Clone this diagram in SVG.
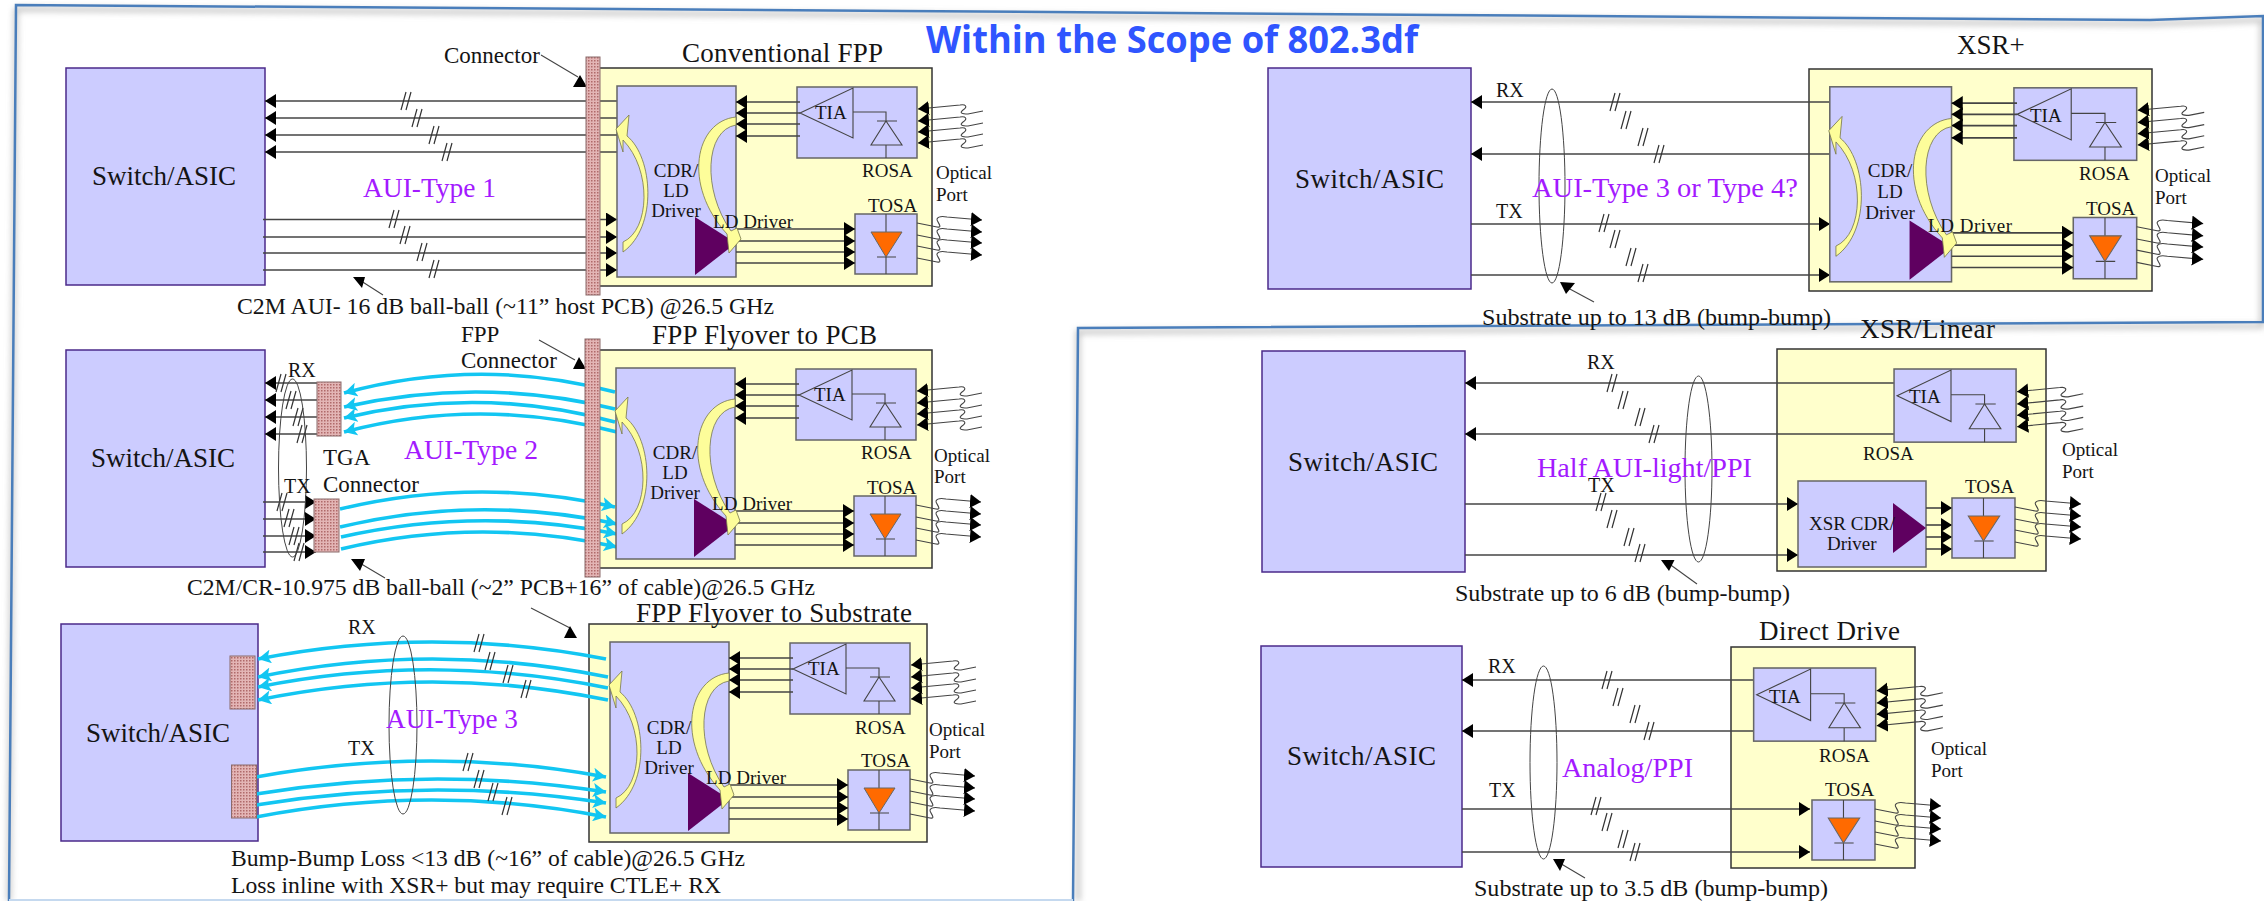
<svg xmlns="http://www.w3.org/2000/svg" width="2264" height="901" viewBox="0 0 2264 901">
<style>
text{font-family:"Liberation Serif","Times New Roman",serif;fill:#141414}
.b{font-size:27px}.m{font-size:19px}.s{font-size:23px}.r{font-size:20px}
text.p{font-size:28px;fill:#a31aff}
.title{font-family:"Open Sans","Noto Sans",sans-serif;font-weight:700;font-size:38px;fill:#2f55ff}
.sw{fill:#ccccff;stroke:#4b2a8a;stroke-width:1.5}
.yb{fill:#ffffcc;stroke:#333;stroke-width:1.5}
.mod{fill:#ccccff;stroke:#666;stroke-width:1.5}
.bar{fill:url(#hatch);stroke:#8a6a6a;stroke-width:1}
.w{fill:none;stroke:#444;stroke-width:1.6}
.tn{fill:none;stroke:#444;stroke-width:1.1}
.sl{fill:none;stroke:#333;stroke-width:1.2}
.el{fill:none;stroke:#444;stroke-width:1}
.cy{fill:none;stroke:#12c6f2;stroke-width:3.6;marker-end:url(#c)}
.ya{fill:#fdfd9a;stroke:#77774a;stroke-width:.8}
.pu{fill:#5f0060}
.or{fill:#ff6a00;stroke:#666;stroke-width:1}
.in{marker-start:url(#h)}.out{marker-end:url(#h)}
.frame{fill:none;stroke:#4a7ebb;stroke-width:2.5}
</style>
<defs>
<marker id="h" markerUnits="userSpaceOnUse" markerWidth="12" markerHeight="14" refX="11" refY="7" orient="auto-start-reverse"><path d="M0,0L11,7L0,14Z" fill="#000"/></marker>
<marker id="c" markerUnits="userSpaceOnUse" markerWidth="14" markerHeight="14" refX="13" refY="7" orient="auto"><path d="M0,0L13,7L0,14L3,7Z" fill="#12c6f2"/></marker>
<pattern id="hatch" width="3" height="3" patternUnits="userSpaceOnUse"><rect width="3" height="3" fill="#e3b5b5"/><rect width="1.5" height="1.5" fill="#b06a6a"/></pattern>
<filter id="blur" x="-5%" y="-5%" width="110%" height="110%"><feGaussianBlur stdDeviation="3"/></filter>
<path id="s" class="sl" d="M-6,9L-1,-9M-1,9L4,-9"/>
<path id="wi" class="tn in" d="M0,0L42,-4C48,-5 50,-2 45,1C41,4 44,5 50,5L65,2"/>
<path id="wo" class="tn out" d="M0,4L20,8C27,9 19,2 20,0C21,-2 25,-3 30,-2L65,1"/>
<g id="rosa">
<rect class="mod" x="797" y="87" width="120" height="71"/>
<path class="tn" d="M800,113L853,88V138ZM853,112H886V121M877,121H897M886,121L871,145H902ZM886,145V158"/>
<use href="#wi" x="918" y="109"/><use href="#wi" x="918" y="121"/><use href="#wi" x="918" y="132"/><use href="#wi" x="918" y="143"/>
</g>
<g id="tosa">
<rect class="mod" x="855" y="214" width="62" height="60"/>
<path class="tn" d="M886,214V274M877,257H896"/>
<path class="or" d="M871,232H902L886,257Z"/>
<use href="#wo" x="917" y="219"/><use href="#wo" x="917" y="231"/><use href="#wo" x="917" y="242"/><use href="#wo" x="917" y="254"/>
</g>
<g id="core">
<rect class="mod" x="617" y="86" width="119" height="191"/>
<use href="#rosa"/><use href="#tosa"/>
<path class="w in" d="M736,102H800"/><path class="w in" d="M736,113H800"/><path class="w in" d="M736,124H800"/><path class="w in" d="M736,136H800"/>
<path class="w out" d="M736,229H855"/><path class="w out" d="M736,241H855"/><path class="w out" d="M736,252H855"/><path class="w out" d="M736,263H855"/>
<path class="pu" d="M695,217V275L736,243Z"/>
<path class="ya" d="M616,129L629,115L627,136C653,157 658,227 623,252L623,242C650,230 652,170 623,140L623,152Z"/>
<path class="ya" d="M736,117C695,121 682,185 727,234L729,253L741,239L737,228L731,231C702,190 705,130 736,125Z"/>
</g>
</defs>

<g id="frame">
<path d="M16,9L900,15L1440,19L2150,24L2262,20V326L1078,332V901M16,9L9,901" fill="none" stroke="#bbb" stroke-width="4" filter="url(#blur)"/>
<path class="frame" d="M9,901L16,5L900,11L1440,15L2150,20L2263,16V322L1078,328L1073,901"/>
<path d="M9,900H1073" stroke="#c5d9ef" stroke-width="2"/>
</g>
<text class="title" x="926" y="53" textLength="492" lengthAdjust="spacingAndGlyphs">Within the Scope of 802.3df</text>

<!-- boxes under the wires -->
<g id="switch-1"><rect class="sw" x="66" y="68" width="199" height="217"/><text class="b" x="92" y="185">Switch/ASIC</text></g>
<g id="switch-2"><rect class="sw" x="66" y="350" width="199" height="217"/><text class="b" x="91" y="467">Switch/ASIC</text></g>
<g id="switch-3"><rect class="sw" x="61" y="624" width="197" height="217"/><text class="b" x="86" y="742">Switch/ASIC</text></g>
<g id="switch-4"><rect class="sw" x="1268" y="68" width="203" height="221"/><text class="b" x="1295" y="188" textLength="149">Switch/ASIC</text></g>
<g id="switch-5"><rect class="sw" x="1262" y="351" width="203" height="221"/><text class="b" x="1288" y="471" textLength="150">Switch/ASIC</text></g>
<g id="switch-6"><rect class="sw" x="1261" y="646" width="201" height="221"/><text class="b" x="1287" y="765" textLength="149">Switch/ASIC</text></g>
<g id="fpp-box-1"><rect class="yb" x="590" y="68" width="342" height="218"/><text class="b" x="682" y="61.500" textLength="201">Conventional FPP</text></g>
<g id="fpp-box-2"><rect class="yb" x="590" y="350" width="342" height="218"/><text class="b" x="652" y="344" textLength="225">FPP Flyover to PCB</text></g>
<g id="fpp-box-3"><rect class="yb" x="589" y="624" width="338" height="218"/><text class="b" x="636" y="622" textLength="276">FPP Flyover to Substrate</text></g>
<g id="xsr-box"><rect class="yb" x="1809" y="69" width="343" height="222"/><text class="b" x="1957" y="54">XSR+</text></g>
<g id="linear-box"><rect class="yb" x="1777" y="349" width="269" height="222"/><text class="b" x="1860" y="338" textLength="135">XSR/Linear</text></g>
<g id="direct-box"><rect class="yb" x="1731" y="647" width="184" height="221"/><text class="b" x="1759" y="640" textLength="141">Direct Drive</text></g>

<g id="connectors">
<!-- panel 1 -->
<path class="w in" d="M265,101H617"/><path class="w in" d="M265,118H617"/><path class="w in" d="M265,135H617"/><path class="w in" d="M265,152H617"/>
<path class="w out" d="M263,219.500H617"/><path class="w out" d="M263,237H617"/><path class="w out" d="M263,253H617"/><path class="w out" d="M263,270H617"/>
<use href="#s" x="407" y="101"/><use href="#s" x="418" y="118"/><use href="#s" x="435" y="135"/><use href="#s" x="448" y="152"/>
<use href="#s" x="395" y="219"/><use href="#s" x="406" y="235"/><use href="#s" x="423" y="252"/><use href="#s" x="435" y="269"/>
<path class="tn" d="M541,55L578,77M383,295L358,279"/>
<path d="M573,87H587L580,75ZM353,277H365L362,288Z"/>
<!-- panel 2 -->
<path class="w in" d="M265,383H317"/><path class="w in" d="M265,400H317"/><path class="w in" d="M265,417H317"/><path class="w in" d="M265,434H317"/>
<path class="w out" d="M263,502H316"/><path class="w out" d="M263,519H316"/><path class="w out" d="M263,536H316"/><path class="w out" d="M263,552H316"/>
<use href="#s" x="282" y="383"/><use href="#s" x="292" y="400"/><use href="#s" x="299" y="417"/><use href="#s" x="303" y="434"/>
<use href="#s" x="283" y="502"/><use href="#s" x="290" y="518"/><use href="#s" x="295" y="536"/><use href="#s" x="300" y="552"/>
<path class="cy" d="M615,392Q480,356 344,393"/><path class="cy" d="M615,409Q480,376 344,407"/><path class="cy" d="M615,422Q480,385 344,418"/><path class="cy" d="M617,432Q480,396 344,432"/>
<path class="cy" d="M340,509Q478,476 615,507"/><path class="cy" d="M340,527Q478,494 617,524"/><path class="cy" d="M341,537Q478,506 617,534"/><path class="cy" d="M341,549Q478,516 617,547"/>
<path class="tn" d="M539,340L575,360M385,578L358,562"/>
<path d="M573,369H586L579,357ZM351,559H365L360,571Z"/>
<!-- panel 3 -->
<path class="cy" d="M606,659Q432,625 258,659"/><path class="cy" d="M608,677Q432,641 258,677"/><path class="cy" d="M608,688Q432,652 258,687"/><path class="cy" d="M608,700Q432,664 258,700"/>
<path class="cy" d="M256,777Q432,745 606,777"/><path class="cy" d="M256,794Q432,765 606,792"/><path class="cy" d="M256,805Q432,776 606,803"/><path class="cy" d="M256,817Q432,783 606,817"/>
<use href="#s" x="480" y="643"/><use href="#s" x="491" y="661"/><use href="#s" x="509" y="674"/><use href="#s" x="527" y="689"/>
<use href="#s" x="469" y="762"/><use href="#s" x="480" y="779"/><use href="#s" x="494" y="792"/><use href="#s" x="508" y="806"/>
<path class="tn" d="M531,608L570,628"/><path d="M564,638H577L570,626Z"/>
<!-- XSR+ -->
<path class="w in" d="M1471,102H1830"/><path class="w in" d="M1471,154H1830"/><path class="w out" d="M1471,224H1830"/><path class="w out" d="M1471,275H1830"/>
<use href="#s" x="1616" y="102"/><use href="#s" x="1627" y="120"/><use href="#s" x="1644" y="137"/><use href="#s" x="1660" y="154"/>
<use href="#s" x="1605" y="223"/><use href="#s" x="1616" y="239"/><use href="#s" x="1632" y="257"/><use href="#s" x="1644" y="273"/>
<path class="tn" d="M1568,288L1594,302"/><path d="M1560,282L1575,283L1566,294Z"/>
<!-- XSR/Linear -->
<path class="w in" d="M1465,383H1894"/><path class="w in" d="M1465,434H1894"/><path class="w out" d="M1465,504H1798"/><path class="w out" d="M1465,555H1798"/>
<use href="#s" x="1613" y="383"/><use href="#s" x="1624" y="400"/><use href="#s" x="1641" y="417"/><use href="#s" x="1655" y="434"/>
<use href="#s" x="1602" y="502"/><use href="#s" x="1613" y="519"/><use href="#s" x="1630" y="537"/><use href="#s" x="1641" y="553"/>
<path class="tn" d="M1697,584L1668,563"/><path d="M1661,560H1674.500L1669,571Z"/>
<!-- Direct Drive -->
<path class="w in" d="M1462,680H1754"/><path class="w in" d="M1462,731H1754"/><path class="w out" d="M1462,809H1810"/><path class="w out" d="M1462,852H1810"/>
<use href="#s" x="1608" y="680"/><use href="#s" x="1619" y="697"/><use href="#s" x="1636" y="714"/><use href="#s" x="1650" y="731"/>
<use href="#s" x="1597" y="806"/><use href="#s" x="1608" y="822"/><use href="#s" x="1624" y="839"/><use href="#s" x="1636" y="852"/>
<path class="tn" d="M1585,878L1558,862"/><path d="M1553,859H1565L1560,871Z"/>
<!-- bundle ellipses -->
<ellipse class="el" cx="292.500" cy="468" rx="14" ry="89"/>
<ellipse class="el" cx="403" cy="725" rx="14" ry="89"/>
<ellipse class="el" cx="1552" cy="186" rx="13" ry="97"/>
<ellipse class="el" cx="1698.500" cy="469" rx="13.500" ry="93"/>
<ellipse class="el" cx="1543.500" cy="762.500" rx="13.500" ry="96.500"/>
</g>

<!-- connector bars and TGA connectors -->
<g id="connector-1"><rect class="bar" x="586" y="57" width="14" height="238"/></g>
<g id="connector-2"><rect class="bar" x="585" y="339" width="15" height="238"/></g>
<g id="tga-rx"><rect class="bar" x="317" y="382" width="24" height="54"/></g>
<g id="tga-tx"><rect class="bar" x="314" y="499" width="25" height="53"/></g>
<g id="sub-rx"><rect class="bar" x="230" y="656" width="25" height="53"/></g>
<g id="sub-tx"><rect class="bar" x="231.500" y="765" width="25" height="53"/></g>

<!-- modules -->
<g id="module-1"><use href="#core"/>
<text class="m" x="676" y="177" text-anchor="middle">CDR/</text><text class="m" x="676" y="197" text-anchor="middle">LD</text><text class="m" x="676" y="217" text-anchor="middle">Driver</text>
<text class="m" x="713" y="228" textLength="80">LD Driver</text><text class="m" x="815" y="119">TIA</text><text class="m" x="862" y="177">ROSA</text><text class="m" x="868" y="212">TOSA</text>
<text class="m" x="936" y="179">Optical</text><text class="m" x="936" y="201">Port</text></g>
<g id="module-2"><use href="#core" transform="translate(-1,282)"/>
<text class="m" x="675" y="459" text-anchor="middle">CDR/</text><text class="m" x="675" y="479" text-anchor="middle">LD</text><text class="m" x="675" y="499" text-anchor="middle">Driver</text>
<text class="m" x="712" y="510" textLength="80">LD Driver</text><text class="m" x="814" y="401">TIA</text><text class="m" x="861" y="459">ROSA</text><text class="m" x="867" y="494">TOSA</text>
<text class="m" x="934" y="462">Optical</text><text class="m" x="934" y="483">Port</text></g>
<g id="module-3"><use href="#core" transform="translate(-7,556)"/>
<text class="m" x="669" y="734" text-anchor="middle">CDR/</text><text class="m" x="669" y="754" text-anchor="middle">LD</text><text class="m" x="669" y="774" text-anchor="middle">Driver</text>
<text class="m" x="706" y="784" textLength="80">LD Driver</text><text class="m" x="808" y="675">TIA</text><text class="m" x="855" y="734">ROSA</text><text class="m" x="861" y="767">TOSA</text>
<text class="m" x="929" y="736">Optical</text><text class="m" x="929" y="758">Port</text></g>
<g id="module-4"><use href="#core" transform="translate(1198.600,-1) scale(1.023,1.021)"/>
<text class="m" x="1890" y="177" text-anchor="middle">CDR/</text><text class="m" x="1890" y="198" text-anchor="middle">LD</text><text class="m" x="1890" y="219" text-anchor="middle">Driver</text>
<text class="m" x="1928" y="232" textLength="84">LD Driver</text><text class="m" x="2030" y="122">TIA</text><text class="m" x="2079" y="180">ROSA</text><text class="m" x="2086" y="215">TOSA</text>
<text class="m" x="2155" y="182">Optical</text><text class="m" x="2155" y="204">Port</text></g>
<g id="module-5">
<rect class="mod" x="1798" y="481" width="128" height="86"/>
<path class="pu" d="M1893,503V553L1926,528Z"/>
<path class="w out" d="M1926,508H1952"/><path class="w out" d="M1926,525H1952"/><path class="w out" d="M1926,537H1952"/><path class="w out" d="M1926,549H1952"/>
<use href="#rosa" transform="translate(1083.500,279.400) scale(1.017,1.030)"/>
<use href="#tosa" transform="translate(1083.300,284) scale(1.016,1)"/>
<text class="m" x="1809" y="530">XSR CDR/</text><text class="m" x="1827" y="550">Driver</text>
<text class="m" x="1909" y="403">TIA</text><text class="m" x="1863" y="460">ROSA</text><text class="m" x="1965" y="493">TOSA</text>
<text class="m" x="2062" y="456">Optical</text><text class="m" x="2062" y="478">Port</text></g>
<g id="module-6">
<use href="#rosa" transform="translate(943.100,578.400) scale(1.017,1.030)"/>
<use href="#tosa" transform="translate(943.300,586) scale(1.016,1)"/>
<text class="m" x="1769" y="703">TIA</text><text class="m" x="1819" y="762">ROSA</text><text class="m" x="1825" y="796">TOSA</text>
<text class="m" x="1931" y="755">Optical</text><text class="m" x="1931" y="777">Port</text></g>

<g id="labels">
<text class="s" x="444" y="63">Connector</text>
<text class="p" x="363" y="197" textLength="133" lengthAdjust="spacingAndGlyphs">AUI-Type 1</text>
<text class="s" x="237" y="314" textLength="537" lengthAdjust="spacingAndGlyphs">C2M AUI- 16 dB ball-ball (~11” host PCB) @26.5 GHz</text>
<text class="s" x="461" y="342">FPP</text><text class="s" x="461" y="368">Connector</text>
<text class="r" x="288" y="377">RX</text><text class="r" x="284" y="493">TX</text>
<text class="s" x="323" y="465">TGA</text><text class="s" x="323" y="492">Connector</text>
<text class="p" x="404" y="459" textLength="134" lengthAdjust="spacingAndGlyphs">AUI-Type 2</text>
<text class="s" x="187" y="595" textLength="628" lengthAdjust="spacingAndGlyphs">C2M/CR-10.975 dB ball-ball (~2” PCB+16” of cable)@26.5 GHz</text>
<text class="r" x="348" y="634">RX</text><text class="r" x="348" y="755">TX</text>
<text class="p" x="386" y="728" textLength="132" lengthAdjust="spacingAndGlyphs">AUI-Type 3</text>
<text class="s" x="231" y="866" textLength="514" lengthAdjust="spacingAndGlyphs">Bump-Bump Loss &lt;13 dB (~16” of cable)@26.5 GHz</text>
<text class="s" x="231" y="893" textLength="490" lengthAdjust="spacingAndGlyphs">Loss inline with XSR+ but may require CTLE+ RX</text>
<text class="r" x="1496" y="97">RX</text><text class="r" x="1496" y="218">TX</text>
<text class="p" x="1532" y="197" textLength="266" lengthAdjust="spacingAndGlyphs">AUI-Type 3 or Type 4?</text>
<text class="s" x="1482" y="325" textLength="349" lengthAdjust="spacingAndGlyphs">Substrate up to 13 dB (bump-bump)</text>
<text class="r" x="1587" y="369">RX</text><text class="r" x="1588" y="492">TX</text>
<text class="p" x="1537" y="477" textLength="215" lengthAdjust="spacingAndGlyphs">Half AUI-light/PPI</text>
<text class="s" x="1455" y="601" textLength="335" lengthAdjust="spacingAndGlyphs">Substrate up to 6 dB (bump-bump)</text>
<text class="r" x="1488" y="673">RX</text><text class="r" x="1489" y="797">TX</text>
<text class="p" x="1562" y="777" textLength="131" lengthAdjust="spacingAndGlyphs">Analog/PPI</text>
<text class="s" x="1474" y="896" textLength="354" lengthAdjust="spacingAndGlyphs">Substrate up to 3.5 dB (bump-bump)</text>
</g>
</svg>
